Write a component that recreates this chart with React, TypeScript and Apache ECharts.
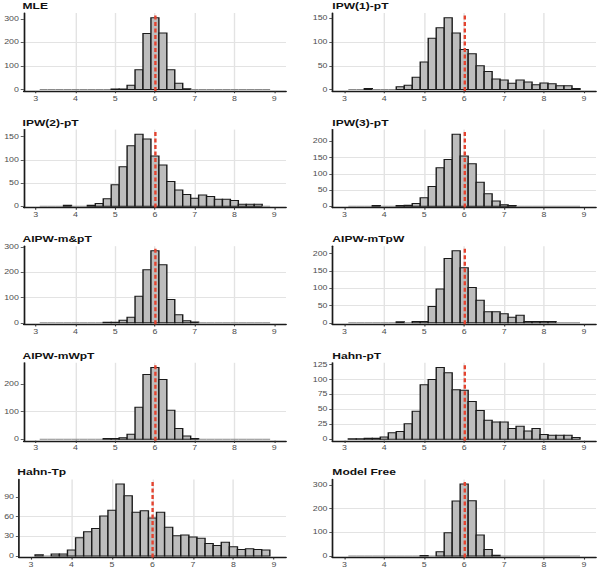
import React, { useEffect, useRef } from 'react';
import * as echarts from 'echarts';

// ---------- data ----------
const BIN_CENTERS = [3.2, 3.4, 3.6, 3.8, 4.0, 4.2, 4.4, 4.6, 4.8, 5.0, 5.2, 5.4, 5.6, 5.8, 6.0, 6.2, 6.4, 6.6, 6.8, 7.0, 7.2, 7.4, 7.6, 7.8, 8.0, 8.2, 8.4, 8.6, 8.8];
const BIN_WIDTH = 0.2;
const X_TICKS = [3, 4, 5, 6, 7, 8, 9];
const TRUE_VALUE = 6;

const PANEL_TITLES = ['MLE', 'IPW(1)-pT', 'IPW(2)-pT', 'IPW(3)-pT', 'AIPW-m&pT', 'AIPW-mTpW', 'AIPW-mWpT', 'Hahn-pT', 'Hahn-Tp', 'Model Free'];
const Y_STEPS = [100, 50, 50, 50, 100, 50, 100, 25, 30, 100];

const MLE = [0, 0, 0, 0, 0, 0, 0, 0, 0, 2, 2, 18, 84, 238, 305, 240, 84, 27, 3, 0, 0, 0, 0, 0, 0, 0, 0, 0, 0];
const IPW1_PT = [0, 0, 2, 0, 0, 0, 6, 9, 26, 58, 108, 130, 151, 119, 84, 75, 50, 38, 22, 20, 13, 20, 16, 10, 14, 12, 8, 8, 2];
const IPW2_PT = [0, 0, 0, 2, 0, 0, 2, 6, 16, 46, 85, 130, 155, 145, 108, 89, 53, 35, 25, 17, 24, 21, 15, 15, 12, 4, 4, 4, 0];
const IPW3_PT = [0, 0, 0, 2, 0, 0, 2, 3, 8, 26, 61, 119, 144, 222, 155, 131, 74, 38, 16, 4, 2, 0, 0, 0, 0, 0, 0, 0, 0];
const AIPW_M_PT = [0, 0, 0, 0, 0, 0, 0, 0, 2, 2, 10, 22, 105, 209, 284, 229, 92, 32, 8, 3, 0, 0, 0, 0, 0, 0, 0, 0, 0];
const AIPW_MTPW = [0, 0, 0, 0, 0, 0, 3, 0, 4, 4, 47, 98, 186, 208, 159, 102, 65, 32, 32, 26, 16, 22, 4, 4, 4, 4, 0, 0, 0];
const AIPW_MWPT = [0, 0, 0, 0, 0, 0, 0, 0, 3, 3, 6, 18, 116, 234, 259, 216, 105, 39, 12, 3, 0, 0, 0, 0, 0, 0, 0, 0, 0];
const HAHN_PT = [1, 1, 2, 2, 4, 11, 13, 26, 47, 91, 100, 120, 111, 83, 82, 63, 48, 32, 29, 29, 18, 22, 14, 18, 8, 7, 7, 7, 3];
const HAHN_TP = [2, 0, 3, 3, 9, 28, 37, 42, 61, 70, 110, 92, 67, 69, 58, 67, 44, 31, 32, 29, 27, 19, 16, 21, 14, 10, 11, 10, 9];
const MODEL_FREE = [0, 0, 0, 0, 0, 0, 0, 0, 0, 2, 0, 18, 98, 232, 304, 233, 89, 27, 3, 0, 0, 0, 0, 0, 0, 0, 0, 0, 0];

const PANEL_COUNTS = [MLE, IPW1_PT, IPW2_PT, IPW3_PT, AIPW_M_PT, AIPW_MTPW, AIPW_MWPT, HAHN_PT, HAHN_TP, MODEL_FREE];

// ---------- layout (chart drawn narrow, then stretched horizontally) ----------
const PAGE_W = 602;
const PAGE_H = 578;
const SX = 1.4;
const CHART_W = PAGE_W / SX;
const CHART_H = PAGE_H;
const FONT = 'Liberation Sans, Arial, Helvetica, sans-serif';

function buildOption() {
  const grid: any[] = [];
  const xAxis: any[] = [];
  const yAxis: any[] = [];
  const series: any[] = [];
  const title: any[] = [];

  PANEL_COUNTS.forEach((counts, i) => {
    const row = Math.floor(i / 2);
    const col = i % 2;
    const top = 13 + row * 116.6;
    const left = col === 0 ? (i === 8 ? 12.4 : 16.1) : 237.4;
    const right = col === 0 ? 204.3 : 425.7;
    const step = Y_STEPS[i];
    const maxCount = Math.max(...counts);
    const yTicks: number[] = [];
    for (let v = 0; v <= maxCount * 1.06; v += step) yTicks.push(v);

    grid.push({ left, top, width: right - left, height: 78 });
    title.push({
      text: PANEL_TITLES[i],
      left,
      top: top - 11.8,
      padding: 0,
      textStyle: { fontSize: 8.6, fontWeight: 'bold', color: '#111', fontFamily: FONT, lineHeight: 10 },
    });
    xAxis.push({
      gridIndex: i,
      type: 'value',
      min: 2.7,
      max: 9.3,
      minInterval: 1,
      maxInterval: 1,
      axisLine: { show: true, onZero: false, lineStyle: { color: '#1a1a1a', width: 1.3 } },
      axisTick: { show: true, length: 2.2, customValues: X_TICKS, lineStyle: { color: '#333', width: 0.8 } },
      axisLabel: {
        customValues: X_TICKS,
        fontSize: 6.3,
        color: '#4d4d4d',
        fontFamily: FONT,
        margin: 4.5,
        formatter: (v: number) => (X_TICKS.indexOf(v) >= 0 ? String(v) : ''),
      },
      splitLine: { show: true, showMinLine: false, showMaxLine: false, lineStyle: { color: '#e3e3e3', width: 1 } },
    });
    yAxis.push({
      gridIndex: i,
      type: 'value',
      min: -0.02 * maxCount,
      max: 1.065 * maxCount,
      minInterval: step,
      maxInterval: step,
      axisLine: { show: true, onZero: false, lineStyle: { color: '#1a1a1a', width: 1.2 } },
      axisTick: { show: true, length: 2.2, customValues: yTicks, lineStyle: { color: '#333', width: 0.8 } },
      axisLabel: {
        customValues: yTicks,
        fontSize: 6.3,
        color: '#4d4d4d',
        fontFamily: FONT,
        margin: 3.5,
        formatter: (v: number) => (v >= 0 && Math.abs(v / step - Math.round(v / step)) < 1e-6 ? String(Math.round(v)) : ''),
      },
      splitLine: { show: true, showMinLine: false, showMaxLine: false, lineStyle: { color: '#e3e3e3', width: 1 } },
    });
    series.push({
      type: 'custom',
      xAxisIndex: i,
      yAxisIndex: i,
      clip: true,
      encode: { x: 0, y: 1 },
      data: BIN_CENTERS.map((c, k) => [c, counts[k]]),
      renderItem: (params: any, api: any) => {
        const x = api.value(0);
        const y = api.value(1);
        const p0 = api.coord([x - BIN_WIDTH / 2, y]);
        const p1 = api.coord([x + BIN_WIDTH / 2, 0]);
        const zero = y === 0;
        return {
          type: 'rect',
          shape: { x: p0[0], y: p0[1], width: p1[0] - p0[0], height: p1[1] - p0[1] },
          style: {
            fill: '#bdbdbd',
            stroke: zero ? '#8a8a8a' : '#1a1a1a',
            lineWidth: 1,
          },
        };
      },
      markLine: {
        silent: true,
        symbol: ['none', 'none'],
        label: { show: false },
        lineStyle: { color: '#E4432F', type: [4, 2.5], width: 1.7 },
        data: [{ xAxis: TRUE_VALUE }],
      },
    });
  });

  return {
    animation: false,
    backgroundColor: '#ffffff',
    title,
    grid,
    xAxis,
    yAxis,
    series,
  };
}

export default function App() {
  const ref = useRef<HTMLDivElement>(null);
  useEffect(() => {
    if (!ref.current) return;
    const chart = echarts.init(ref.current, null, { renderer: 'svg', width: CHART_W, height: CHART_H });
    chart.setOption(buildOption() as any);
    return () => chart.dispose();
  }, []);
  return (
    <div style={{ position: 'fixed', left: 0, top: 0, width: PAGE_W, height: PAGE_H, overflow: 'hidden', background: '#fff' }}>
      <div
        ref={ref}
        style={{ width: CHART_W, height: CHART_H, transform: `scaleX(${SX})`, transformOrigin: '0 0' }}
      />
    </div>
  );
}
